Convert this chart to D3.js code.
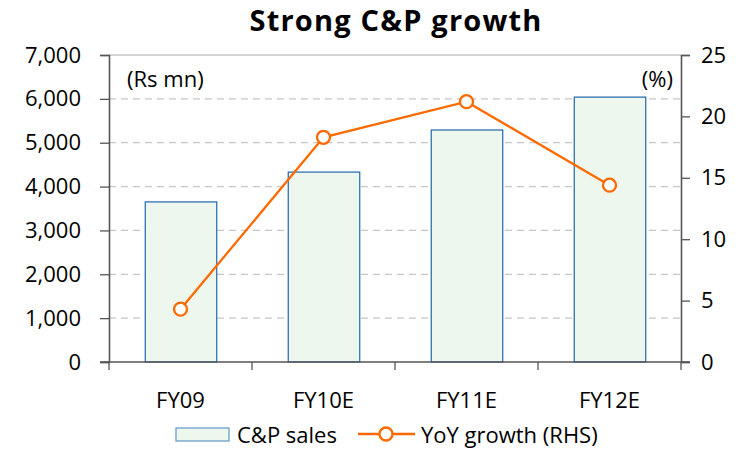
<!DOCTYPE html>
<html>
<head>
<meta charset="utf-8">
<script src="https://cdn.jsdelivr.net/npm/d3@7"></script>
<style>
  body { margin: 0; background: #fff; }
  svg { display: block; }
</style>
</head>
<body>
<svg id="chart"></svg>
<script>
const width = 736;
const height = 451;

// data
const years = ["FY09", "FY10E", "FY11E", "FY12E"];
const sales = [3650, 4330, 5290, 6040];      // Rs mn
const growth = [4.3, 18.3, 21.2, 14.4];       // %
const leftTicks = [0, 1000, 2000, 3000, 4000, 5000, 6000, 7000];
const rightTicks = [0, 5, 10, 15, 20, 25];

const margin = {top: 55, right: 55, bottom: 89, left: 109};
const font = "'Open Sans', Lato, sans-serif";
const orange = "#ff6a00";
const ink = "#000";

const svg = d3.select("#chart")
    .attr("width", width)
    .attr("height", height)
    .style("font-family", font);

const x = d3.scaleBand()
    .domain(years)
    .range([margin.left, width - margin.right])
    .paddingInner(0.5)
    .paddingOuter(0.25);

const y = d3.scaleLinear()
    .domain([0, 7000])
    .range([height - margin.bottom, margin.top]);

const y2 = d3.scaleLinear()
    .domain([0, 25])
    .range([height - margin.bottom, margin.top]);

// title
svg.append("text")
    .attr("x", 396)
    .attr("y", 30.5)
    .attr("text-anchor", "middle")
    .style("font-size", "29px")
    .style("font-weight", "bold")
    .style("letter-spacing", "1.2px")
    .attr("fill", ink)
    .text("Strong C&P growth");

// gridlines
svg.append("g")
    .selectAll("line")
    .data(leftTicks.filter(d => d > 0 && d < 7000))
    .join("line")
    .attr("x1", margin.left)
    .attr("x2", width - margin.right)
    .attr("y1", d => y(d))
    .attr("y2", d => y(d))
    .attr("stroke", "#c6c6c6")
    .attr("stroke-width", 1.3)
    .attr("stroke-dasharray", "7,5");

// top border
svg.append("line")
    .attr("x1", margin.left)
    .attr("x2", width - margin.right)
    .attr("y1", y(7000))
    .attr("y2", y(7000))
    .attr("stroke", "#c6c6c6")
    .attr("stroke-width", 1.3);

// bars
svg.append("g")
    .selectAll("rect")
    .data(sales)
    .join("rect")
    .attr("x", (d, i) => x(years[i]) + 0.5)
    .attr("y", d => y(d))
    .attr("width", x.bandwidth())
    .attr("height", d => y(0) - y(d))
    .attr("fill", "#eef7ee")
    .attr("stroke", "#1f67ad")
    .attr("stroke-width", 1.2);

// left axis
const yAxis = svg.append("g")
    .attr("transform", `translate(${margin.left},0)`)
    .call(d3.axisLeft(y).tickValues(leftTicks).tickFormat(d3.format(",")).tickSize(9).tickPadding(19));

// right axis
const y2Axis = svg.append("g")
    .attr("transform", `translate(${width - margin.right},0)`)
    .call(d3.axisRight(y2).tickValues(rightTicks).tickSize(9).tickPadding(11));

// x axis with ticks at category boundaries
const xAxis = svg.append("g")
    .attr("transform", `translate(0,${y(0)})`);
xAxis.append("line")
    .attr("x1", margin.left - 9)
    .attr("x2", width - margin.right + 9)
    .attr("stroke", "#555")
    .attr("stroke-width", 1.6);
const step = x.step();
xAxis.selectAll("line.tick")
    .data(d3.range(years.length + 1))
    .join("line")
    .attr("class", "tick")
    .attr("x1", i => margin.left + i * step)
    .attr("x2", i => margin.left + i * step)
    .attr("y1", 0)
    .attr("y2", 8)
    .attr("stroke", "#555")
    .attr("stroke-width", 1.3);
xAxis.selectAll("text")
    .data(years)
    .join("text")
    .attr("x", d => x(d) + x.bandwidth() / 2)
    .attr("y", 46)
    .attr("text-anchor", "middle")
    .style("font-size", "22px")
    .attr("fill", ink)
    .text(d => d);

[yAxis, y2Axis].forEach(g => {
    g.select(".domain").attr("stroke", "#555").attr("stroke-width", 1.6);
    g.selectAll(".tick line").attr("stroke", "#555").attr("stroke-width", 1.3);
    g.selectAll(".tick text")
        .style("font-family", font)
        .style("font-size", "22px")
        .attr("fill", ink);
});

// unit labels
svg.append("text")
    .attr("x", 127)
    .attr("y", 87)
    .style("font-size", "22px")
    .attr("fill", ink)
    .text("(Rs mn)");
svg.append("text")
    .attr("x", 673)
    .attr("y", 87)
    .attr("text-anchor", "end")
    .style("font-size", "22px")
    .attr("fill", ink)
    .text("(%)");

// growth line
const cx = (d, i) => x(years[i]) + x.bandwidth() / 2;
const line = d3.line()
    .x(cx)
    .y(d => y2(d));

svg.append("path")
    .datum(growth)
    .attr("d", line)
    .attr("fill", "none")
    .attr("stroke", orange)
    .attr("stroke-width", 2.3);

svg.append("g")
    .selectAll("circle")
    .data(growth)
    .join("circle")
    .attr("cx", cx)
    .attr("cy", d => y2(d))
    .attr("r", 6.5)
    .attr("fill", "#fff")
    .attr("stroke", orange)
    .attr("stroke-width", 2.3);

// legend
const legend = svg.append("g");
legend.append("rect")
    .attr("x", 176)
    .attr("y", 428)
    .attr("width", 53)
    .attr("height", 13)
    .attr("fill", "#eef7ee")
    .attr("stroke", "#6a9fcb")
    .attr("stroke-width", 1.3);
legend.append("text")
    .attr("x", 237)
    .attr("y", 443)
    .style("font-size", "22px")
    .attr("fill", ink)
    .text("C&P sales");
legend.append("line")
    .attr("x1", 358)
    .attr("x2", 415)
    .attr("y1", 434)
    .attr("y2", 434)
    .attr("stroke", orange)
    .attr("stroke-width", 2.3);
legend.append("circle")
    .attr("cx", 386)
    .attr("cy", 434)
    .attr("r", 6.5)
    .attr("fill", "#fff")
    .attr("stroke", orange)
    .attr("stroke-width", 2.3);
legend.append("text")
    .attr("x", 421)
    .attr("y", 443)
    .style("font-size", "22px")
    .attr("fill", ink)
    .text("YoY growth (RHS)");
</script>
</body>
</html>
